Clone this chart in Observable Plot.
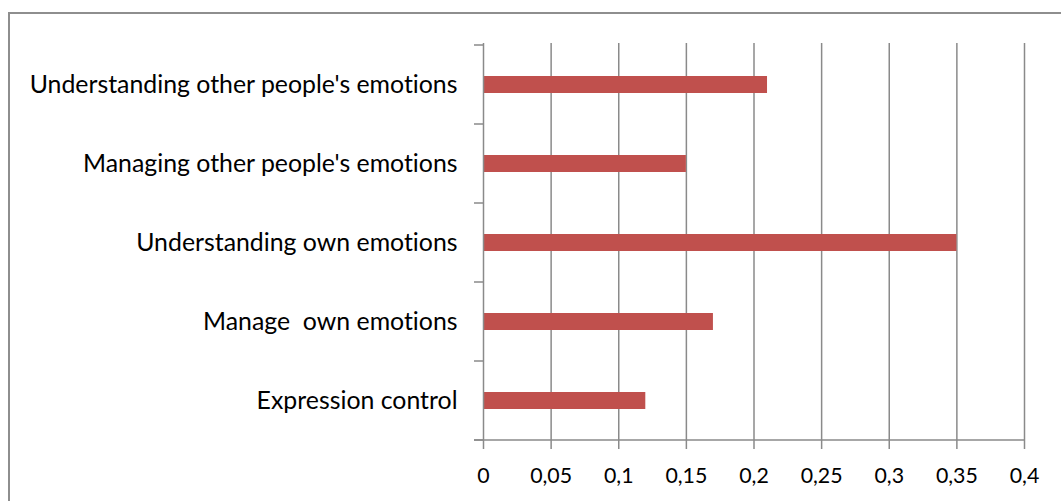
<!DOCTYPE html>
<html><head><meta charset="utf-8">
<script src="https://cdn.jsdelivr.net/npm/d3@7"></script>
<script src="https://cdn.jsdelivr.net/npm/@observablehq/plot@0.6"></script>
<style>
html,body{margin:0;padding:0;background:#fff;overflow:hidden}
#wrap{position:relative;width:1061px;height:501px;overflow:hidden}
#frame{position:absolute;left:8px;top:12px;width:1100px;height:600px;border:2px solid #8e8e8e;box-sizing:border-box}
#chart{position:absolute;left:0;top:0}
svg text{font-variant-ligatures:none;font-feature-settings:"liga" 0, "clig" 0}
</style></head><body>
<div id="wrap"><div id="frame"></div><div id="chart"></div></div>
<script>
const categories = [
  "Understanding other people's emotions",
  "Managing other people's emotions",
  "Understanding own emotions",
  "Manage  own emotions",
  "Expression control"
];
const values = [0.21, 0.15, 0.35, 0.17, 0.12];
const xTicks = [0, 0.05, 0.1, 0.15, 0.2, 0.25, 0.3, 0.35, 0.4];

const data = categories.map((c, i) => ({category: c, value: values[i]}));
const fmt = d => String(d).replace(".", ",");

const FONT = "Lato, 'Open Sans', sans-serif";
const ctx = document.createElement("canvas").getContext("2d");
function sizeFor(text, target) {
  ctx.font = `100px ${FONT}`;
  return 100 * target / ctx.measureText(text).width;
}
const labelSize = sizeFor(categories[0], 429);
const tickSize = sizeFor("0,05", 42);

const grid = "#8a8a8a";

function boundaryTicks(index, scales, values, dims) {
  const y = scales.y, x = scales.x;
  const step = y.step(), bw = y.bandwidth();
  const edges = categories.map(c => y(c) + bw / 2 - step / 2);
  edges.push(edges[edges.length - 1] + step);
  const g = d3.create("svg:g").attr("stroke", grid).attr("stroke-width", 1.5);
  const x0 = x(0);
  for (const e of edges) {
    g.append("line").attr("x1", x0 - 9).attr("x2", x0).attr("y1", e).attr("y2", e);
  }
  const yb = edges[edges.length - 1];
  g.append("line").attr("x1", x0 - 9).attr("x2", x(0.4)).attr("y1", yb).attr("y2", yb);
  return g.node();
}

const chart = Plot.plot({
  width: 1061,
  height: 501,
  marginLeft: 483,
  marginRight: 37,
  marginTop: 43,
  marginBottom: 60,
  style: {fontFamily: FONT, background: "transparent", color: "#000"},
  x: {domain: [0, 0.4]},
  y: {domain: categories, paddingInner: 0.786, paddingOuter: 0.393},
  marks: [
    Plot.ruleX(xTicks.filter(d => d > 0), {stroke: grid, strokeWidth: 1.5}),
    Plot.barX(data, {x: "value", y: "category", fill: "#C0504D"}),
    Plot.ruleX([0], {stroke: grid, strokeWidth: 1.5}),
    Plot.axisX({ticks: xTicks, tickFormat: fmt, tickSize: 8, tickPadding: 18,
      stroke: grid, strokeWidth: 1.5, fontSize: tickSize, label: null, fill: "#000"}),
    Plot.axisY({tickSize: 0, tickPadding: 26, fontSize: labelSize, label: null, fill: "#000"}),
    boundaryTicks
  ]
});
document.getElementById("chart").appendChild(chart);
</script>
</body></html>
